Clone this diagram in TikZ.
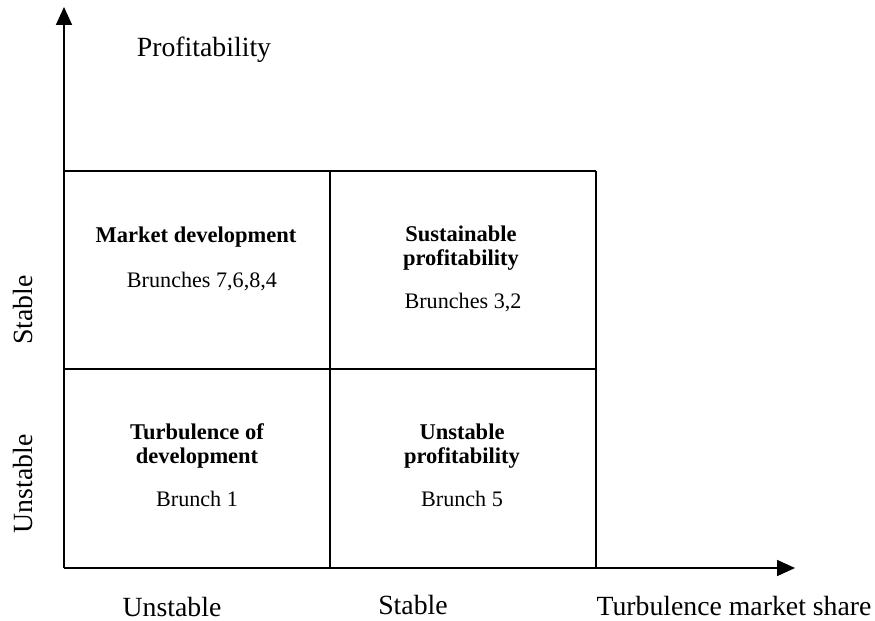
\documentclass[tikz,border=0pt]{standalone}
\usepackage{fontspec}
\setmainfont{Liberation Serif}
\usetikzlibrary{arrows.meta}
\tikzset{
	axislabel/.style={font=\fontsize{15.8}{18}\selectfont},
	cellhead/.style={font=\fontsize{12.8}{13.8}\selectfont\bfseries,align=center},
	celltext/.style={font=\fontsize{12.6}{14}\selectfont}
}
\begin{document}
\begin{tikzpicture}[line width=1pt]
			
			\def\xa{1.28}
			\def\xb{6.60}
			\def\xc{11.92}
			\def\ya{1.04}
			\def\yb{5.02}
			\def\yc{8.98}
			\useasboundingbox (0,0) rectangle (17.5,12.4);
			\coordinate (O) at (\xa,\ya);
			\coordinate (xend) at (15.9,\ya);
			\coordinate (yend) at (\xa,12.26);
			\draw[-{Triangle[length=0.36cm,width=0.32cm]}] (O)--(xend);
			\draw[-{Triangle[length=0.36cm,width=0.32cm]}] (O)--(yend);
			% the four quadrants
			\draw (\xa,\yb)--(\xc,\yb);
			\draw (\xa,\yc)--(\xc,\yc);
			\draw (\xb,\ya)--(\xb,\yc);
			\draw (\xc,\ya)--(\xc,\yc);
			% axis labels
			\node[axislabel] (yname) at (4.08,11.4) {Profitability};
			\node[axislabel] (xname) at (14.68,0.28) {Turbulence market share};
			\node[axislabel] (xlow) at (3.44,0.26) {Unstable};
			\node[axislabel] (xhigh) at (8.26,0.30) {Stable};
			\node[axislabel,rotate=90] (yhigh) at (0.46,6.2) {Stable};
			\node[axislabel,rotate=90] (ylow) at (0.46,2.72) {Unstable};
			% cell texts
			\node[cellhead] (mdev) at (3.92,7.66) {Market development};
			\node[celltext] (mdevb) at (4.04,6.76) {Brunches 7,6,8,4};
			\node[cellhead] (sprof) at (9.22,7.44) {Sustainable\\profitability};
			\node[celltext] (sprofb) at (9.26,6.34) {Brunches 3,2};
			\node[cellhead] (tdev) at (3.94,3.48) {Turbulence of\\development};
			\node[celltext] (tdevb) at (3.94,2.42) {Brunch 1};
			\node[cellhead] (uprof) at (9.24,3.48) {Unstable\\profitability};
			\node[celltext] (uprofb) at (9.24,2.42) {Brunch 5};
			
		\end{tikzpicture}
\end{document}
